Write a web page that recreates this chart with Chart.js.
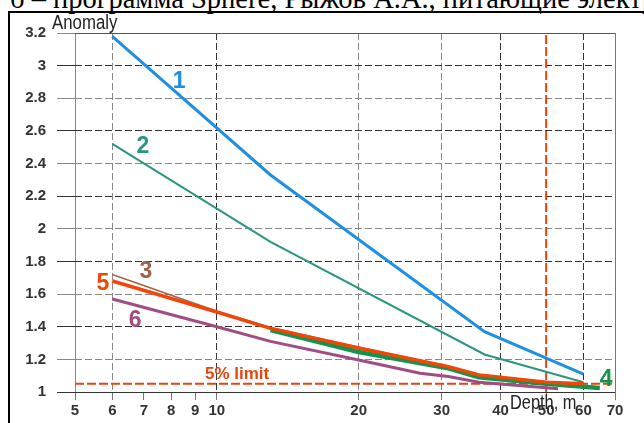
<!DOCTYPE html>
<html>
<head>
<meta charset="utf-8">
<script src="https://cdn.jsdelivr.net/npm/chart.js@4.4.0/dist/chart.umd.min.js"></script>
<style>
  html, body { margin: 0; padding: 0; background: #fff; overflow: hidden; }
  #wrap { position: relative; width: 644px; height: 423px; overflow: hidden; }
  #caption { position: absolute; left: 10px; top: -15px; font-family: "Liberation Serif", "Times New Roman", serif;
             font-size: 28.5px; line-height: 28px; white-space: nowrap; color: #000; }
  #frame { position: absolute; left: 8px; top: 11px; width: 700px; height: 500px;
           border-left: 2px solid #000; border-top: 2px solid #000; }
  canvas { position: absolute; left: 0; top: 0; }
</style>
</head>
<body>
<div id="wrap">
  <div id="caption">б – программа Sphere, Рыжов А.А., питающие электроды</div>
  <div id="frame"></div>
  <canvas id="chart" width="644" height="423"></canvas>
</div>
<script>
// Tick values
const xTicks = [5, 6, 7, 8, 9, 10, 20, 30, 40, 50, 60, 70];
const yTicks = [1, 1.2, 1.4, 1.6, 1.8, 2, 2.2, 2.4, 2.6, 2.8, 3, 3.2];

// Curves (depth in m, anomaly)
const depth1 = [6, 13, 37, 60];
const anomaly1 = [3.18, 2.33, 1.37, 1.11];

const depth2 = [6, 13, 37, 60];
const anomaly2 = [2.52, 1.92, 1.23, 1.06];

const depth3 = [6, 10, 13, 20, 31, 36, 50, 60];
const anomaly3 = [1.72, 1.495, 1.395, 1.275, 1.158, 1.108, 1.062, 1.05];

const depth4 = [13, 20, 31, 36, 50, 65];
const anomaly4 = [1.38, 1.245, 1.145, 1.09, 1.05, 1.025];

const depth5 = [6, 10, 13, 20, 31, 36, 50, 60];
const anomaly5 = [1.68, 1.49, 1.39, 1.27, 1.155, 1.105, 1.06, 1.05];

const depth6 = [6, 10, 13, 20, 27, 31, 36, 53];
const anomaly6 = [1.57, 1.40, 1.31, 1.196, 1.115, 1.095, 1.06, 1.02];

// 5% limit and depth limit
const limitValue = 1.05;
const limitDepth = 50;

const toPoints = (xs, ys) => xs.map((d, i) => ({ x: d, y: ys[i] }));

const FONT = '"Liberation Sans", Arial, sans-serif';
const RED = '#E8440C';

function line(label, xs, ys, color, width) {
  return {
    label,
    data: toPoints(xs, ys),
    borderColor: color,
    borderWidth: width,
    pointRadius: 0,
    tension: 0,
    fill: false
  };
}

const datasets = [
  line('5', depth5, anomaly5, '#F0460A', 3.5),
  line('4', depth4, anomaly4, '#13944A', 4.5),
  line('3', depth3, anomaly3, '#A0624A', 1.5),
  line('6', depth6, anomaly6, '#A24C84', 3),
  line('2', depth2, anomaly2, '#2A9580', 2),
  line('1', depth1, anomaly1, '#1E8FE1', 3),
  {
    label: 'limit',
    data: [{ x: xTicks[0], y: limitValue }, { x: xTicks[xTicks.length - 1], y: limitValue }],
    borderColor: RED, borderWidth: 2, borderDash: [9, 3], pointRadius: 0
  },
  {
    label: 'depthLimit',
    data: [{ x: limitDepth, y: yTicks[0] }, { x: limitDepth, y: yTicks[yTicks.length - 1] }],
    borderColor: RED, borderWidth: 2, borderDash: [9, 3], pointRadius: 0
  }
];

// Curve numbers, anchored in data units
const notes = [
  { text: '1', color: '#1E8FE1', at: [8.32, 2.904] },
  { text: '2', color: '#2A9580', at: [6.97, 2.506] },
  { text: '3', color: '#A0624A', at: [7.07, 1.735] },
  { text: '5', color: '#F0460A', at: [5.73, 1.661] },
  { text: '6', color: '#A24C84', at: [6.71, 1.435] },
  { text: '4', color: '#13944A', at: [67.06, 1.073] }
];

const textPlugin = {
  id: 'texts',
  afterDatasetsDraw(chart) {
    const { ctx, scales: { x, y } } = chart;
    ctx.save();
    ctx.textAlign = 'center';
    ctx.textBaseline = 'middle';
    ctx.font = 'bold 23px ' + FONT;
    notes.forEach(n => {
      ctx.fillStyle = n.color;
      ctx.fillText(n.text, x.getPixelForValue(n.at[0]), y.getPixelForValue(n.at[1]));
    });
    ctx.font = 'bold 17px ' + FONT;
    ctx.fillStyle = RED;
    ctx.fillText('5% limit', x.getPixelForValue(11.04), y.getPixelForValue(1.11));

    ctx.textAlign = 'left';
    ctx.textBaseline = 'alphabetic';
    ctx.fillStyle = '#222';
    ctx.font = '20px ' + FONT;
    ctx.save();
    ctx.translate(52, 29);
    ctx.scale(0.84, 1);
    ctx.fillText('Anomaly', 0, 0);
    ctx.restore();
    ctx.font = '21px ' + FONT;
    ctx.save();
    ctx.translate(510, 409);
    ctx.scale(0.78, 1);
    ctx.fillText('Depth, m', 0, 0);
    ctx.restore();
    ctx.restore();
  }
};

const xGridColor = { 5: '#888', 6: '#888', 10: '#333', 20: '#888', 30: '#888', 40: '#333', 60: '#333', 70: '#777' };

new Chart(document.getElementById('chart'), {
  type: 'line',
  data: { datasets },
  plugins: [textPlugin],
  options: {
    responsive: false,
    animation: false,
    layout: { padding: { top: 33, right: 29, left: 0, bottom: 0 } },
    plugins: { legend: { display: false }, tooltip: { enabled: false } },
    scales: {
      x: {
        type: 'logarithmic',
        min: 5,
        max: 70,
        afterBuildTicks: s => { s.ticks = xTicks.map(v => ({ value: v })); },
        afterFit: s => { s.height = 31; },
        ticks: {
          autoSkip: false, maxRotation: 0, padding: 2, color: '#333',
          font: { family: FONT, size: 15, weight: 'bold' },
          callback: v => String(v)
        },
        grid: {
          lineWidth: 1,
          tickLength: 8,
          tickColor: '#777',
          color: c => (c.tick && xGridColor[c.tick.value]) || 'rgba(0,0,0,0)'
        },
        border: {
          display: false,
          dash: c => (!c.tick || c.tick.value === 5 || c.tick.value === 70) ? [] : [7, 3]
        }
      },
      y: {
        type: 'linear',
        min: 1,
        max: 3.2,
        afterBuildTicks: s => { s.ticks = yTicks.map(v => ({ value: v })); },
        afterFit: s => { s.width = 75; },
        ticks: {
          padding: 11, color: '#333',
          font: { family: FONT, size: 15, weight: 'bold' },
          callback: v => String(+v.toFixed(1))
        },
        grid: {
          lineWidth: 1,
          tickLength: 18,
          color: c => {
            if (!c.tick) return '#555';
            const i = c.index;
            if (i === 0) return '#333';
            if (i === yTicks.length - 1) return '#555';
            return i % 2 === 0 ? '#333' : '#888';
          },
          tickColor: c => (c.index % 2 === 0 ? '#333' : '#888')
        },
        border: {
          display: false,
          dash: c => (!c.tick || c.index === 0 || c.index === yTicks.length - 1) ? [] : [7, 3]
        }
      }
    }
  }
});
</script>
</body>
</html>
